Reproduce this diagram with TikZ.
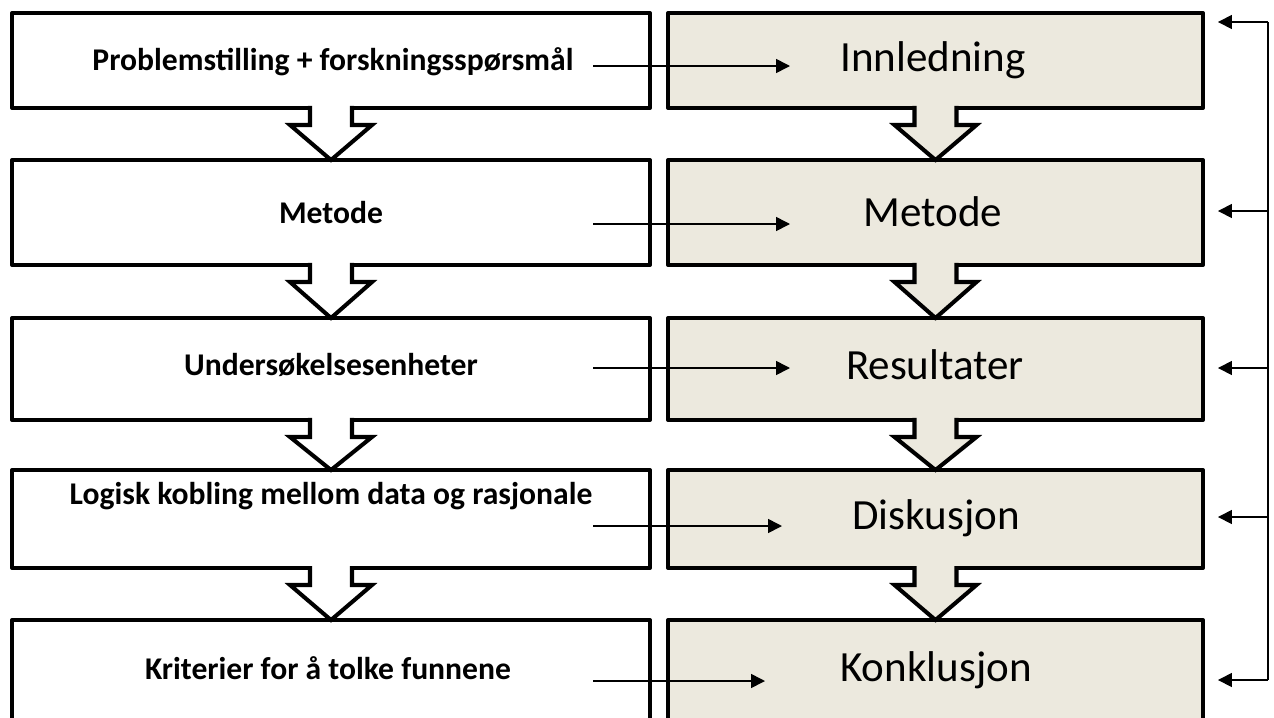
\documentclass[tikz,border=0pt]{standalone}
\usepackage{fontspec}
\setmainfont{Carlito}
\usetikzlibrary{arrows.meta,calc}
\definecolor{paper}{RGB}{236,233,222}

% block arrow hanging from the bottom of box #2 down to the top of box #3
\newcommand\downblock[3]{%
  \fill[#1] ($(#2.south)+(-21,-3)$) -- ($(#2.south)+(-21,17)$) -- ($(#2.south)+(-41,17)$)
    -- (#3.north) -- ($(#2.south)+(41,17)$) -- ($(#2.south)+(21,17)$) -- ($(#2.south)+(21,-3)$) -- cycle;
  \draw[blockline] ($(#2.south)+(-21,-2)$) -- ($(#2.south)+(-21,17)$) -- ($(#2.south)+(-41,17)$)
    -- (#3.north) -- ($(#2.south)+(41,17)$) -- ($(#2.south)+(21,17)$) -- ($(#2.south)+(21,-2)$);
}

\begin{document}
\begin{tikzpicture}[x=0.02cm,y=-0.02cm,
  box/.style={draw=black,line width=2.3pt,inner sep=0,outer sep=0,line join=round},
  leftbox/.style={box,fill=white,minimum width=12.76cm},
  rightbox/.style={box,fill=paper,minimum width=10.7cm},
  ltext/.style={font=\bfseries\fontsize{18}{21}\selectfont,inner sep=0},
  rtext/.style={font=\fontsize{24.5}{28}\selectfont,inner sep=0},
  link/.style={line width=0.9pt,-{Triangle[length=0.28cm,width=0.28cm]}},
  blockline/.style={line width=2.3pt,line join=miter},
]
\path[use as bounding box] (0,0) rectangle (1274,717);
\clip (0,0) rectangle (1274,717);

% left column: research design
\node[leftbox,minimum height=1.9cm]  (L1) at (331,60.5) {};
\node[leftbox,minimum height=2.1cm]  (L2) at (331,212.5) {};
\node[leftbox,minimum height=2.04cm] (L3) at (331,369) {};
\node[leftbox,minimum height=1.96cm] (L4) at (331,519) {};
\node[leftbox,minimum height=3.2cm]  (L5) at (331,700) {};

% right column: report structure
\node[rightbox,minimum height=1.9cm]  (R1) at (935.5,60.5) {};
\node[rightbox,minimum height=2.1cm]  (R2) at (935.5,212.5) {};
\node[rightbox,minimum height=2.04cm] (R3) at (935.5,369) {};
\node[rightbox,minimum height=1.96cm] (R4) at (935.5,519) {};
\node[rightbox,minimum height=3.2cm]  (R5) at (935.5,700) {};

\downblock{white}{L1}{L2}
\downblock{white}{L2}{L3}
\downblock{white}{L3}{L4}
\downblock{white}{L4}{L5}
\downblock{paper}{R1}{R2}
\downblock{paper}{R2}{R3}
\downblock{paper}{R3}{R4}
\downblock{paper}{R4}{R5}

% labels
\node[ltext] (tL1) at (333,62)  {Problemstilling + forskningsspørsmål};
\node[ltext] (tL2) at (331,213) {Metode};
\node[ltext] (tL3) at (331,365) {Undersøkelsesenheter};
\node[ltext] (tL4) at (331,496) {Logisk kobling mellom data og rasjonale};
\node[ltext] (tL5) at (328,668) {Kriterier for å tolke funnene};

\node[rtext] (tR1) at (933,60)  {Innledning};
\node[rtext] (tR2) at (933,212) {Metode};
\node[rtext] (tR3) at (935,365) {Resultater};
\node[rtext] (tR4) at (936,518) {Diskusjon};
\node[rtext] (tR5) at (936,670) {Konklusjon};

% links from each design element to its chapter
\coordinate (a1) at (593,66);  \coordinate (b1) at (790,66);
\coordinate (a2) at (593,224); \coordinate (b2) at (790,224);
\coordinate (a3) at (593,368); \coordinate (b3) at (790,368);
\coordinate (a4) at (593,526); \coordinate (b4) at (782,526);
\coordinate (a5) at (593,681); \coordinate (b5) at (765,681);
\foreach \i in {1,...,5} \draw[link] (a\i) -- (b\i);

% feedback bus on the right
\coordinate (f1) at (1268,22);
\coordinate (f2) at (1268,211);
\coordinate (f3) at (1268,368);
\coordinate (f4) at (1268,517);
\coordinate (f5) at (1268,680);
\draw[line width=0.9pt] (f1) -- (f5);
\foreach \i in {1,...,5} \draw[link] (f\i) -- ($(R\i.east |- f\i)+(15,0)$);
\end{tikzpicture}
\end{document}
